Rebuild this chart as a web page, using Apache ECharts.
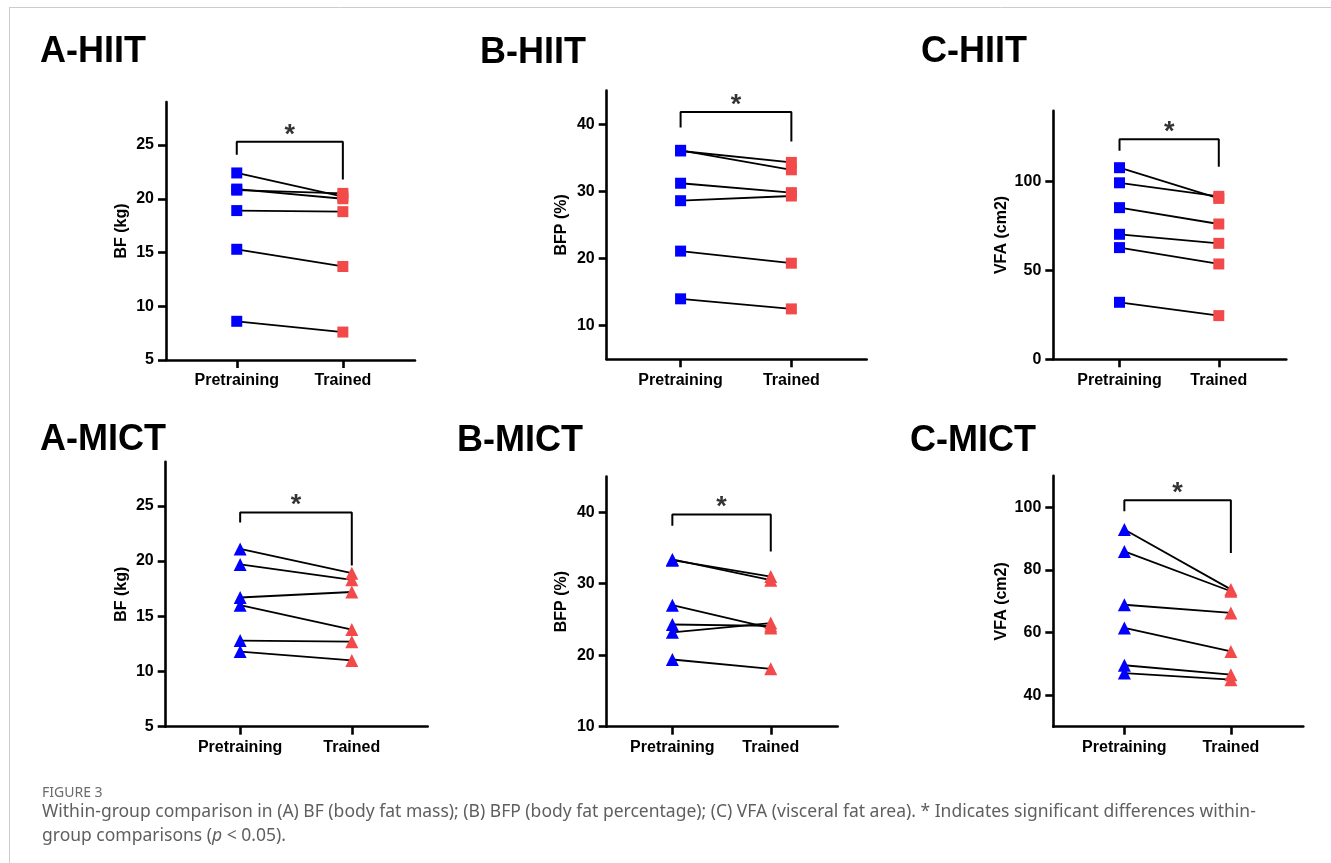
<!DOCTYPE html>
<html>
<head>
<meta charset="utf-8">
<script src="https://cdn.jsdelivr.net/npm/echarts@6/dist/echarts.min.js"></script>
<style>
html,body{margin:0;padding:0;background:#fff;}
#c{width:1331px;height:863px;}
</style>
</head>
<body>
<div id="c"></div>
<script>
// ---- data ----
const categories = ['Pretraining', 'Trained'];
const panelTitles = ['A-HIIT', 'B-HIIT', 'C-HIIT', 'A-MICT', 'B-MICT', 'C-MICT'];
const yNames = ['BF (kg)', 'BFP (%)', 'VFA (cm2)', 'BF (kg)', 'BFP (%)', 'VFA (cm2)'];

const bfHiitPre   = [22.4, 20.9, 20.8, 18.9, 15.3, 8.6];
const bfHiitPost  = [20.2, 20.0, 20.5, 18.8, 13.7, 7.6];
const bfpHiitPre  = [36.0, 36.1, 31.2, 28.6, 21.1, 14.0];
const bfpHiitPost = [34.3, 33.2, 29.8, 29.3, 19.3, 12.5];
const vfaHiitPre  = [107.9, 99.4, 85.4, 70.4, 62.9, 32.1];
const vfaHiitPost = [90.6, 91.8, 76.2, 65.3, 53.7, 24.6];

const bfMictPre   = [21.1, 19.7, 16.7, 16.0, 12.8, 11.8];
const bfMictPost  = [18.9, 18.3, 17.2, 13.8, 12.7, 11.0];
const bfpMictPre  = [33.3, 33.4, 27.0, 24.3, 23.2, 19.4];
const bfpMictPost = [31.0, 30.5, 23.8, 24.1, 24.5, 18.1];
const vfaMictPre  = [92.9, 85.9, 68.9, 61.5, 49.6, 47.1];
const vfaMictPost = [73.8, 73.2, 66.3, 54.0, 46.6, 45.0];

// significance brackets: [left leg end, bar height, right leg end]
const bracketBfHiit  = [24.1, 25.3, 21.8];
const bracketBfpHiit = [39.5, 41.8, 37.4];
const bracketVfaHiit = [117.5, 123.9, 108.4];
const bracketBfMict  = [23.5, 24.4, 19.6];
const bracketBfpMict = [38.1, 39.7, 34.5];
const bracketVfaMict = [98.7, 102.2, 85.4];

// y axis ranges and tick labels
const yRanges = [[5, 29], [5, 45], [0, 140], [5, 29], [10, 45], [30, 110]];
const yTicks = [
  [5, 10, 15, 20, 25],
  [10, 20, 30, 40],
  [0, 50, 100],
  [5, 10, 15, 20, 25],
  [10, 20, 30, 40],
  [40, 60, 80, 100]
];
const xRange = [0.333, 2.68];

const preData = [bfHiitPre, bfpHiitPre, vfaHiitPre, bfMictPre, bfpMictPre, vfaMictPre];
const postData = [bfHiitPost, bfpHiitPost, vfaHiitPost, bfMictPost, bfpMictPost, vfaMictPost];
const brackets = [bracketBfHiit, bracketBfpHiit, bracketVfaHiit, bracketBfMict, bracketBfpMict, bracketVfaMict];

// ---- layout (pixels) ----
const grids = [
  {left: 166,    top: 102,   width: 249, height: 258},
  {left: 606.7,  top: 90.5,  width: 260, height: 268.8},
  {left: 1053.3, top: 110.7, width: 233, height: 248.6},
  {left: 165.7,  top: 461.7, width: 262, height: 265},
  {left: 606.7,  top: 476.5, width: 231, height: 250.2},
  {left: 1053.3, top: 475.9, width: 250, height: 250.8}
];
const nameGaps = [36, 37, 44, 36, 37, 44];
const titlePos = [[40, 54], [480, 55], [921, 54], [40, 442], [457, 443], [910, 443]];

const FONT = '"Liberation Sans", Arial, Helvetica, sans-serif';
const CAPFONT = '"Noto Sans", "Open Sans", sans-serif';
const BLUE = '#0000ff';
const RED = '#f24a4a';
const AXW = 2.6;

const option = {
  backgroundColor: '#fff',
  animation: false,
  grid: grids.map(g => Object.assign({containLabel: false}, g)),
  xAxis: [],
  yAxis: [],
  series: [],
  graphic: []
};

for (let p = 0; p < 6; p++) {
  option.xAxis.push({
    gridIndex: p, type: 'value', min: xRange[0], max: xRange[1],
    splitLine: {show: false},
    axisLine: {show: true, onZero: false, lineStyle: {color: '#000', width: AXW}},
    axisTick: {show: true, customValues: [1, 2], length: 8, inside: false, lineStyle: {color: '#000', width: AXW}},
    axisLabel: {
      show: true, customValues: [1, 2], margin: 13,
      formatter: v => categories[Math.round(v) - 1] || '',
      color: '#000', fontWeight: 'bold', fontSize: 16, fontFamily: FONT
    }
  });
  option.yAxis.push({
    gridIndex: p, type: 'value', min: yRanges[p][0], max: yRanges[p][1],
    name: yNames[p], nameLocation: 'middle', nameGap: nameGaps[p], nameMoveOverlap: false,
    nameTextStyle: {color: '#000', fontWeight: 'bold', fontSize: 16, fontFamily: FONT},
    splitLine: {show: false},
    axisLine: {show: true, onZero: false, lineStyle: {color: '#000', width: AXW}},
    axisTick: {show: true, customValues: yTicks[p], length: 8, inside: false, lineStyle: {color: '#000', width: AXW}},
    axisLabel: {
      show: true, customValues: yTicks[p], margin: 12,
      color: '#000', fontWeight: 'bold', fontSize: 16, fontFamily: FONT
    }
  });

  const pre = preData[p], post = postData[p];
  for (let i = 0; i < pre.length; i++) {
    option.series.push({
      type: 'line', xAxisIndex: p, yAxisIndex: p,
      data: [[1, pre[i]], [2, post[i]]],
      showSymbol: false, symbol: 'none', silent: true, z: 2,
      lineStyle: {color: '#000', width: 1.8}
    });
  }
  const sym = p < 3 ? 'rect' : 'triangle';
  const size = p < 3 ? 11 : 13;
  option.series.push({
    type: 'scatter', xAxisIndex: p, yAxisIndex: p, z: 3,
    symbol: sym, symbolSize: size,
    itemStyle: {color: BLUE, opacity: 1},
    data: pre.map(v => [1, v])
  });
  option.series.push({
    type: 'scatter', xAxisIndex: p, yAxisIndex: p, z: 3,
    symbol: sym, symbolSize: size,
    itemStyle: {color: RED, opacity: 1},
    data: post.map(v => [2, v])
  });

  const b = brackets[p];
  option.series.push({
    type: 'line', xAxisIndex: p, yAxisIndex: p, z: 2,
    data: [[1, b[0]], [1, b[1]], [2, b[1]], [2, b[2]]],
    showSymbol: false, symbol: 'none', silent: true,
    lineStyle: {color: '#000', width: 2}
  });
  option.series.push({
    type: 'scatter', xAxisIndex: p, yAxisIndex: p, z: 4,
    symbolSize: 0, silent: true,
    data: [[1.5, b[1]]],
    label: {show: true, position: 'top', distance: -7, formatter: '*',
      color: '#000', fontSize: 27, fontWeight: 'bold', fontFamily: FONT}
  });

  option.graphic.push({
    type: 'text', left: titlePos[p][0], top: titlePos[p][1] - 20,
    style: {text: panelTitles[p], fill: '#000', font: 'bold 36px ' + FONT, textVerticalAlign: 'top'}
  });
}

// frame lines
option.graphic.push({type: 'line', shape: {x1: 9, y1: 7.5, x2: 1331, y2: 7.5}, style: {stroke: '#cccccc', lineWidth: 1}});
option.graphic.push({type: 'line', shape: {x1: 9.5, y1: 7.5, x2: 9.5, y2: 863}, style: {stroke: '#cccccc', lineWidth: 1}});

// caption
option.graphic.push({
  type: 'text', left: 42, top: 786,
  style: {text: 'FIGURE 3', fill: '#6b6b6b', font: '14px ' + CAPFONT}
});
option.graphic.push({
  type: 'text', left: 42, top: 800,
  style: {
    text: 'Within-group comparison in (A) BF (body fat mass); (B) BFP (body fat percentage); (C) VFA (visceral fat area). * Indicates significant differences within-\ngroup comparisons ({i|p} < 0.05).',
    fill: '#5f5f5f', font: '17.5px ' + CAPFONT, lineHeight: 24,
    rich: {i: {fontStyle: 'italic', fontSize: 17.5, fontFamily: CAPFONT, fill: '#5f5f5f', lineHeight: 24}}
  }
});

const chart = echarts.init(document.getElementById('c'), null, {renderer: 'canvas'});
chart.setOption(option);
</script>
</body>
</html>
